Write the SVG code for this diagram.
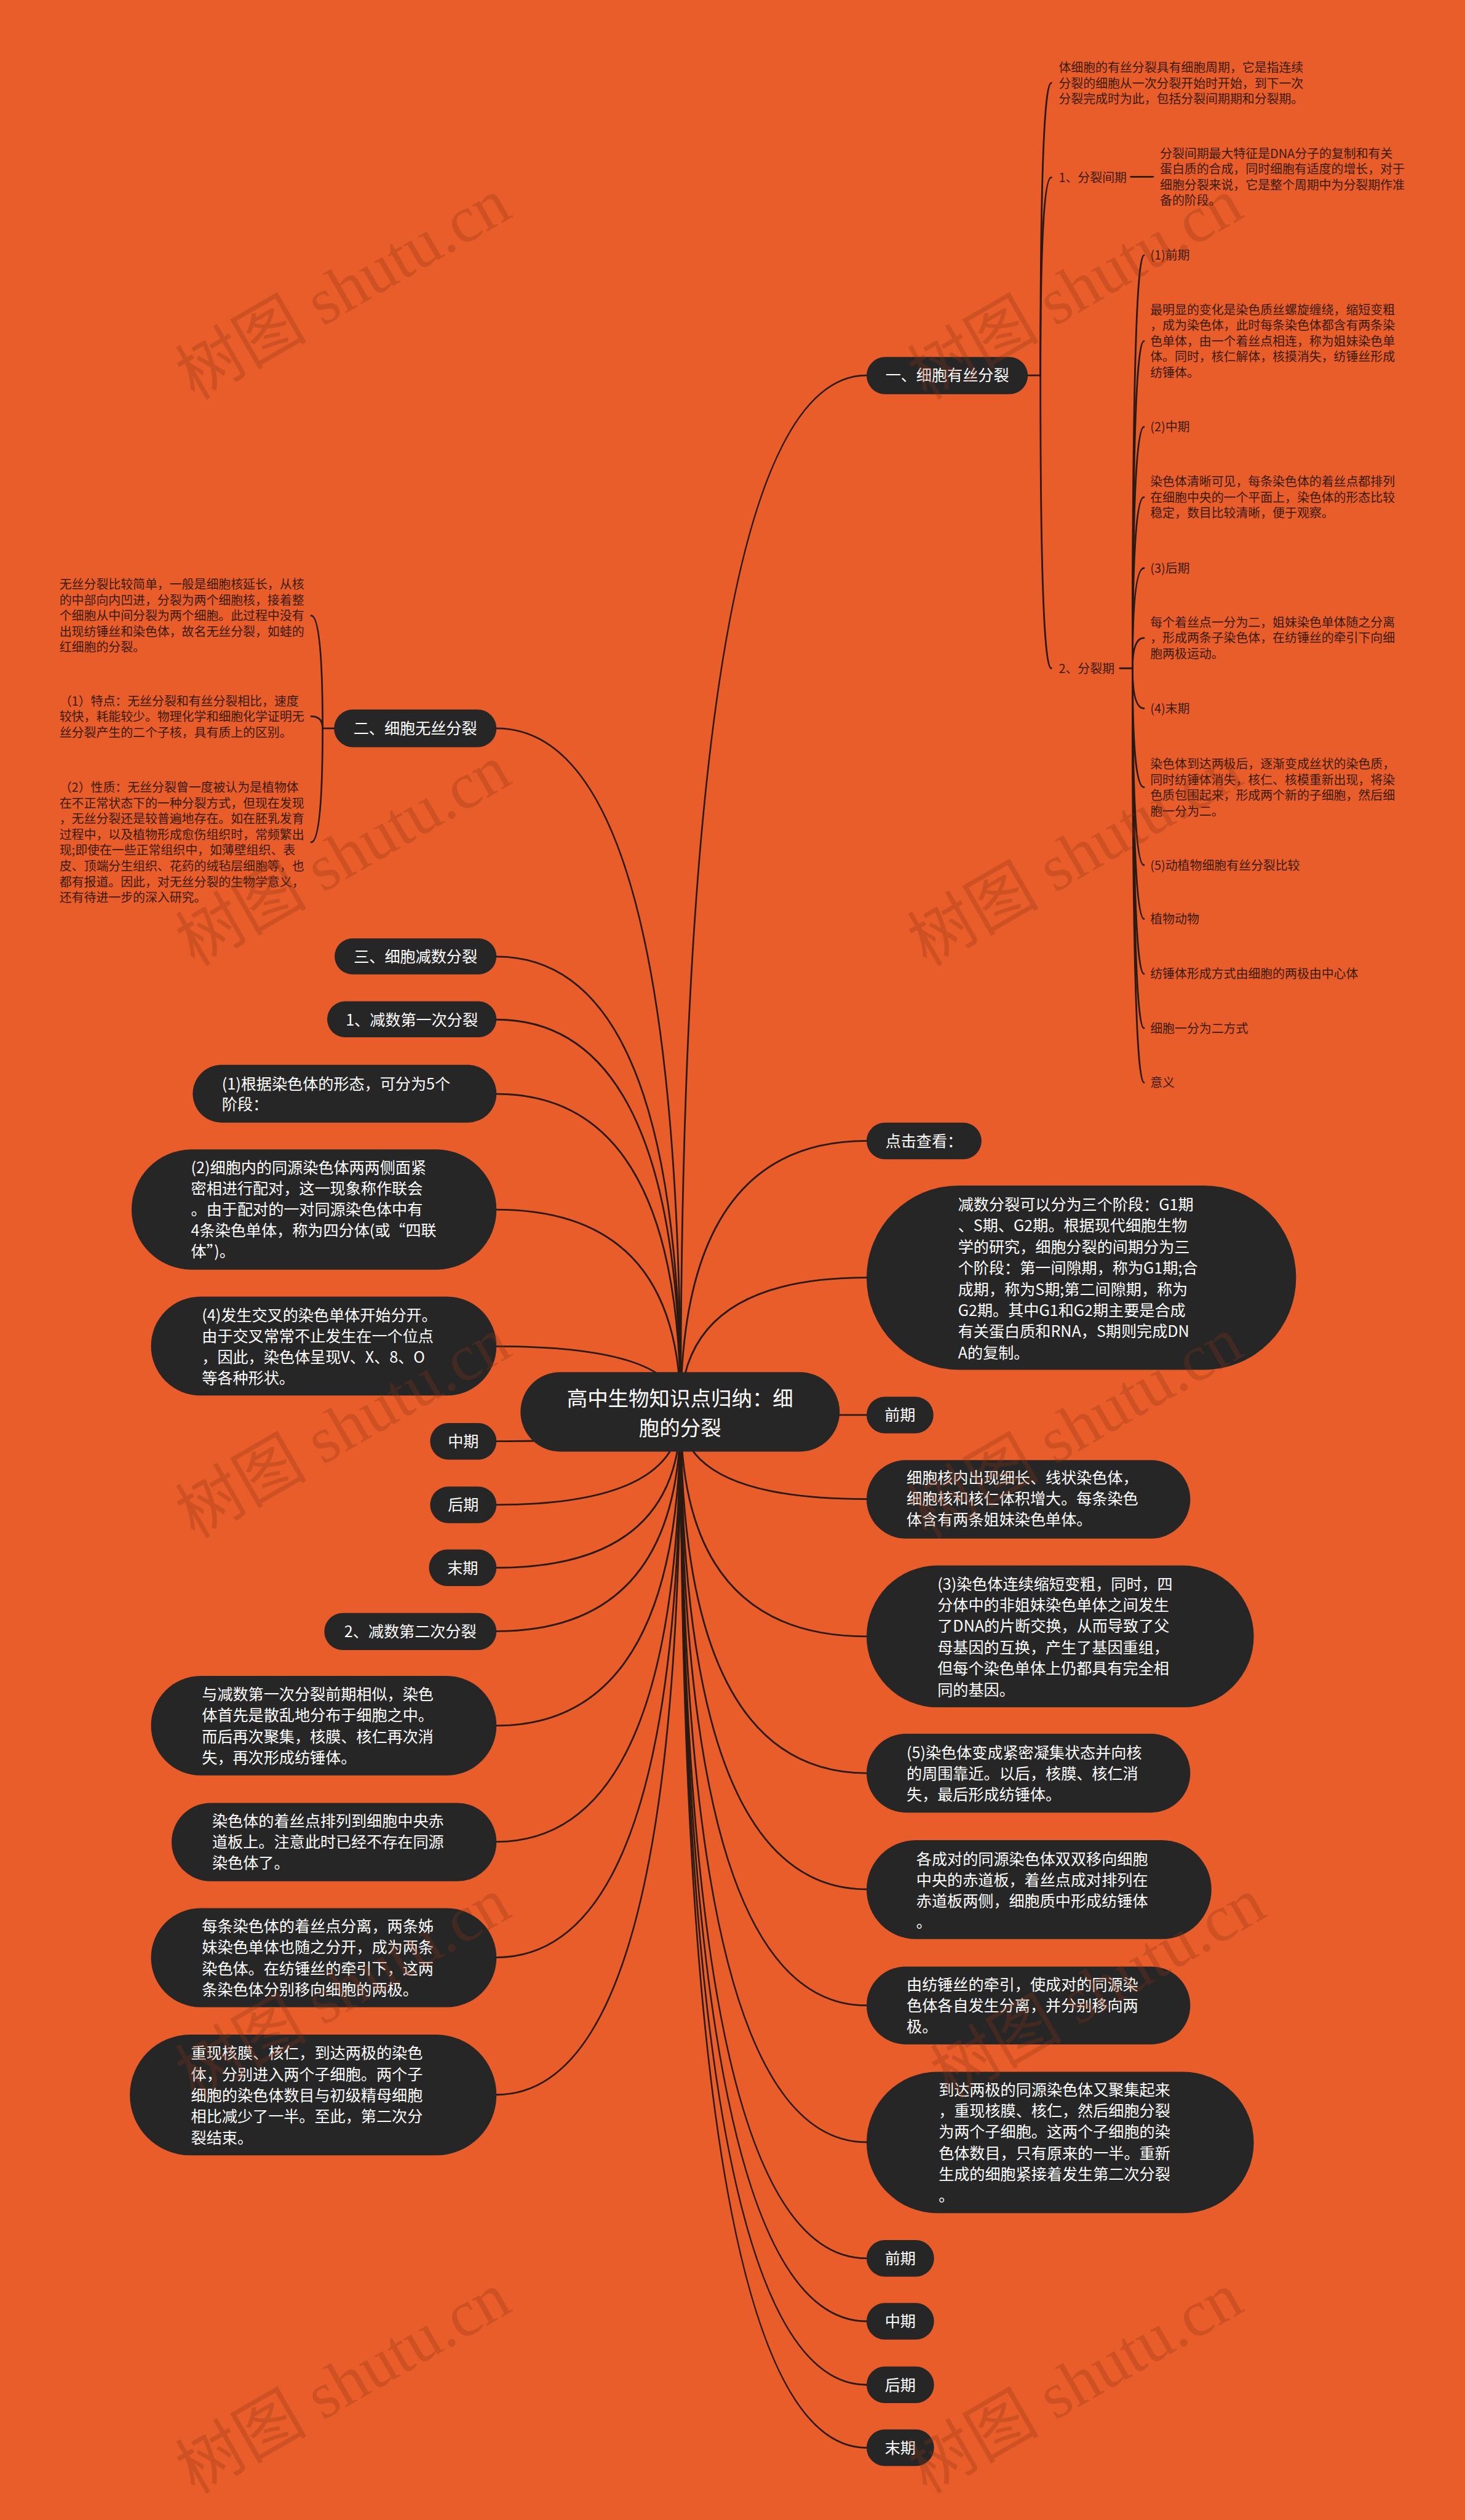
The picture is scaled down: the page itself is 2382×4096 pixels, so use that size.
<svg xmlns="http://www.w3.org/2000/svg" width="2382" height="4096" viewBox="0 0 2382 4096">
<style>
.bg{fill:#E95D2A}
.n{fill:#262626}
.t{font-family:"Noto Sans CJK SC","Noto Sans",sans-serif;fill:#ffffff;font-size:27px}
.c{text-anchor:middle}
.r{font-size:36px}
.s{font-family:"Noto Sans CJK SC","Noto Sans",sans-serif;fill:#3a1a0b;font-size:21.4px}
.ln{fill:none;stroke:#2b1a12;stroke-width:3;stroke-linecap:round}
.wm{font-family:"Liberation Serif","Noto Sans CJK SC",serif;font-size:115px;fill:#8a3416;opacity:0.28}
</style>
<rect class="bg" x="0" y="0" width="2382" height="4096"/>
<g transform="scale(0.93)">
<g id="connectors">
<path class="ln" d="M1190 2468 Q1190 656 1515 656"/>
<path class="ln" d="M1190 2468 Q1190 1994 1515 1994"/>
<path class="ln" d="M1190 2468 Q1190 2233 1515 2233"/>
<path class="ln" d="M1190 2468 Q1190 2473 1515 2473"/>
<path class="ln" d="M1190 2468 Q1190 2620 1515 2620"/>
<path class="ln" d="M1190 2468 Q1190 2860 1515 2860"/>
<path class="ln" d="M1190 2468 Q1190 3099 1515 3099"/>
<path class="ln" d="M1190 2468 Q1190 3302 1515 3302"/>
<path class="ln" d="M1190 2468 Q1190 3505 1515 3505"/>
<path class="ln" d="M1190 2468 Q1190 3744 1515 3744"/>
<path class="ln" d="M1190 2468 Q1190 3947 1515 3947"/>
<path class="ln" d="M1190 2468 Q1190 4057 1515 4057"/>
<path class="ln" d="M1190 2468 Q1190 4168 1515 4168"/>
<path class="ln" d="M1190 2468 Q1190 4278 1515 4278"/>
<path class="ln" d="M1190 2468 Q1190 1273 868 1273"/>
<path class="ln" d="M1190 2468 Q1190 1672 868 1672"/>
<path class="ln" d="M1190 2468 Q1190 1782 868 1782"/>
<path class="ln" d="M1190 2468 Q1190 1912 868 1912"/>
<path class="ln" d="M1190 2468 Q1190 2114 868 2114"/>
<path class="ln" d="M1190 2468 Q1190 2353 868 2353"/>
<path class="ln" d="M1190 2468 Q1190 2519 868 2519"/>
<path class="ln" d="M1190 2468 Q1190 2630 868 2630"/>
<path class="ln" d="M1190 2468 Q1190 2740 868 2740"/>
<path class="ln" d="M1190 2468 Q1190 2851 868 2851"/>
<path class="ln" d="M1190 2468 Q1190 3016 868 3016"/>
<path class="ln" d="M1190 2468 Q1190 3219 868 3219"/>
<path class="ln" d="M1190 2468 Q1190 3421 868 3421"/>
<path class="ln" d="M1190 2468 Q1190 3661 868 3661"/>
<path class="ln" d="M1797 656 H1819"/>
<path class="ln" d="M1819 656 Q1819 145 1838 145"/>
<path class="ln" d="M1819 656 Q1819 310 1838 310"/>
<path class="ln" d="M1819 656 Q1819 1168 1838 1168"/>
<path class="ln" d="M1977 309 H2016"/>
<path class="ln" d="M1958 1168 H1980"/>
<path class="ln" d="M1980 1168 Q1980 446 2000 446"/>
<path class="ln" d="M1980 1168 Q1980 596 2000 596"/>
<path class="ln" d="M1980 1168 Q1980 746 2000 746"/>
<path class="ln" d="M1980 1168 Q1980 869 2000 869"/>
<path class="ln" d="M1980 1168 Q1980 993 2000 993"/>
<path class="ln" d="M1980 1168 Q1980 1115 2000 1115"/>
<path class="ln" d="M1980 1168 Q1980 1238 2000 1238"/>
<path class="ln" d="M1980 1168 Q1980 1376 2000 1376"/>
<path class="ln" d="M1980 1168 Q1980 1512 2000 1512"/>
<path class="ln" d="M1980 1168 Q1980 1606 2000 1606"/>
<path class="ln" d="M1980 1168 Q1980 1702 2000 1702"/>
<path class="ln" d="M1980 1168 Q1980 1797 2000 1797"/>
<path class="ln" d="M1980 1168 Q1980 1892 2000 1892"/>
<path class="ln" d="M584 1273 H564"/>
<path class="ln" d="M564 1273 Q564 1076 544 1076"/>
<path class="ln" d="M564 1273 Q564 1252 544 1252"/>
<path class="ln" d="M564 1273 Q564 1472 544 1472"/>
</g>

<g id="root"><rect class="n" x="910" y="2398" width="558" height="139" rx="69.5"/><text class="t c r" x="1189" y="2457">高中生物知识点归纳：细</text><text class="t c r" x="1189" y="2509">胞的分裂</text></g>

<g id="n-wusi"><rect class="n" x="584" y="1240" width="284" height="66" rx="33"/><text class="t c" x="726" y="1283">二、细胞无丝分裂</text></g>
<g id="n-wusi-p1"><text class="s" x="104" y="1029">无丝分裂比较简单，一般是细胞核延长，从核</text><text class="s" x="104" y="1056.5">的中部向内凹进，分裂为两个细胞核，接着整</text><text class="s" x="104" y="1084">个细胞从中间分裂为两个细胞。此过程中没有</text><text class="s" x="104" y="1111.5">出现纺锤丝和染色体，故名无丝分裂，如蛙的</text><text class="s" x="104" y="1139">红细胞的分裂。</text></g>
<g id="n-wusi-p2"><text class="s" x="104" y="1233">（1）特点：无丝分裂和有丝分裂相比，速度</text><text class="s" x="104" y="1260.5">较快，耗能较少。物理化学和细胞化学证明无</text><text class="s" x="104" y="1288">丝分裂产生的二个子核，具有质上的区别。</text></g>
<g id="n-wusi-p3"><text class="s" x="104" y="1384">（2）性质：无丝分裂曾一度被认为是植物体</text><text class="s" x="104" y="1411.5">在不正常状态下的一种分裂方式，但现在发现</text><text class="s" x="104" y="1439">，无丝分裂还是较普遍地存在。如在胚乳发育</text><text class="s" x="104" y="1466.5">过程中，以及植物形成愈伤组织时，常频繁出</text><text class="s" x="104" y="1494">现;即使在一些正常组织中，如薄壁组织、表</text><text class="s" x="104" y="1521.5">皮、顶端分生组织、花药的绒毡层细胞等，也</text><text class="s" x="104" y="1549">都有报道。因此，对无丝分裂的生物学意义，</text><text class="s" x="104" y="1576.5">还有待进一步的深入研究。</text></g>

<g id="n-jianshu"><rect class="n" x="585" y="1640" width="283" height="63" rx="31.5"/><text class="t c" x="726.5" y="1682">三、细胞减数分裂</text></g>
<g id="n-di1"><rect class="n" x="572" y="1750" width="296" height="63" rx="31.5"/><text class="t c" x="720" y="1792">1、减数第一次分裂</text></g>
<g id="n-l1"><rect class="n" x="337" y="1861" width="531" height="101" rx="50.5"/><text class="t" x="388" y="1904">(1)根据染色体的形态，可分为5个</text><text class="t" x="388" y="1940">阶段：</text></g>
<g id="n-l2"><rect class="n" x="230" y="2009" width="638" height="210" rx="105"/><text class="t" x="334" y="2051">(2)细胞内的同源染色体两两侧面紧</text><text class="t" x="334" y="2087.5">密相进行配对，这一现象称作联会</text><text class="t" x="334" y="2124">。由于配对的一对同源染色体中有</text><text class="t" x="334" y="2160.5">4条染色单体，称为四分体(或“四联</text><text class="t" x="334" y="2197">体”)。</text></g>
<g id="n-l4"><rect class="n" x="264" y="2266" width="604" height="173" rx="86.5"/><text class="t" x="353" y="2309">(4)发生交叉的染色单体开始分开。</text><text class="t" x="353" y="2345.5">由于交叉常常不止发生在一个位点</text><text class="t" x="353" y="2382">，因此，染色体呈现V、X、8、O</text><text class="t" x="353" y="2418.5">等各种形状。</text></g>
<g id="n-lzhong"><rect class="n" x="752" y="2487" width="116" height="64" rx="32"/><text class="t c" x="810" y="2529">中期</text></g>
<g id="n-lhou"><rect class="n" x="752" y="2598" width="116" height="64" rx="32"/><text class="t c" x="810" y="2640">后期</text></g>
<g id="n-lmo"><rect class="n" x="750" y="2708" width="118" height="64" rx="32"/><text class="t c" x="809" y="2750">末期</text></g>
<g id="n-di2"><rect class="n" x="567" y="2819" width="301" height="65" rx="32.5"/><text class="t c" x="717.5" y="2861">2、减数第二次分裂</text></g>
<g id="n-l5"><rect class="n" x="264" y="2929" width="604" height="174" rx="87"/><text class="t" x="353" y="2971">与减数第一次分裂前期相似，染色</text><text class="t" x="353" y="3008">体首先是散乱地分布于细胞之中。</text><text class="t" x="353" y="3045">而后再次聚集，核膜、核仁再次消</text><text class="t" x="353" y="3082">失，再次形成纺锤体。</text></g>
<g id="n-l6"><rect class="n" x="300" y="3151" width="568" height="137" rx="68.5"/><text class="t" x="371" y="3193">染色体的着丝点排列到细胞中央赤</text><text class="t" x="371" y="3229.5">道板上。注意此时已经不存在同源</text><text class="t" x="371" y="3266">染色体了。</text></g>
<g id="n-l7"><rect class="n" x="264" y="3335" width="604" height="173" rx="86.5"/><text class="t" x="353" y="3376">每条染色体的着丝点分离，两条姊</text><text class="t" x="353" y="3413">妹染色单体也随之分开，成为两条</text><text class="t" x="353" y="3450">染色体。在纺锤丝的牵引下，这两</text><text class="t" x="353" y="3487">条染色体分别移向细胞的两极。</text></g>
<g id="n-l8"><rect class="n" x="227" y="3556" width="641" height="211" rx="105.5"/><text class="t" x="334" y="3598">重现核膜、核仁，到达两极的染色</text><text class="t" x="334" y="3635">体，分别进入两个子细胞。两个子</text><text class="t" x="334" y="3672">细胞的染色体数目与初级精母细胞</text><text class="t" x="334" y="3709">相比减少了一半。至此，第二次分</text><text class="t" x="334" y="3746">裂结束。</text></g>

<g id="n-yousi"><rect class="n" x="1515" y="624" width="282" height="65" rx="32.5"/><text class="t c" x="1656" y="666">一、细胞有丝分裂</text></g>
<g id="n-ys-p"><text class="s" x="1851" y="126">体细胞的有丝分裂具有细胞周期，它是指连续</text><text class="s" x="1851" y="153.5">分裂的细胞从一次分裂开始时开始，到下一次</text><text class="s" x="1851" y="181">分裂完成时为此，包括分裂间期期和分裂期。</text></g>
<g id="n-jianqi"><text class="s" x="1851" y="318">1、分裂间期</text></g>
<g id="n-jianqi-p"><text class="s" x="2028" y="276">分裂间期最大特征是DNA分子的复制和有关</text><text class="s" x="2028" y="303.5">蛋白质的合成，同时细胞有适度的增长，对于</text><text class="s" x="2028" y="331">细胞分裂来说，它是整个周期中为分裂期作准</text><text class="s" x="2028" y="358.5">备的阶段。</text></g>
<g id="n-fenlie"><text class="s" x="1851" y="1176">2、分裂期</text></g>
<g id="n-f1"><text class="s" x="2011" y="454">(1)前期</text></g>
<g id="n-f1p"><text class="s" x="2011" y="549">最明显的变化是染色质丝螺旋缠绕，缩短变粗</text><text class="s" x="2011" y="576.5">，成为染色体，此时每条染色体都含有两条染</text><text class="s" x="2011" y="604">色单体，由一个着丝点相连，称为姐妹染色单</text><text class="s" x="2011" y="631.5">体。同时，核仁解体，核摸消失，纺锤丝形成</text><text class="s" x="2011" y="659">纺锤体。</text></g>
<g id="n-f2"><text class="s" x="2011" y="754">(2)中期</text></g>
<g id="n-f2p"><text class="s" x="2011" y="849.5">染色体清晰可见，每条染色体的着丝点都排列</text><text class="s" x="2011" y="877">在细胞中央的一个平面上，染色体的形态比较</text><text class="s" x="2011" y="904.5">稳定，数目比较清晰，便于观察。</text></g>
<g id="n-f3"><text class="s" x="2011" y="1001">(3)后期</text></g>
<g id="n-f3p"><text class="s" x="2011" y="1095.5">每个着丝点一分为二，姐妹染色单体随之分离</text><text class="s" x="2011" y="1123">，形成两条子染色体，在纺锤丝的牵引下向细</text><text class="s" x="2011" y="1150.5">胞两极运动。</text></g>
<g id="n-f4"><text class="s" x="2011" y="1246">(4)末期</text></g>
<g id="n-f4p"><text class="s" x="2011" y="1343">染色体到达两极后，逐渐变成丝状的染色质，</text><text class="s" x="2011" y="1370.5">同时纺锤体消失，核仁、核模重新出现，将染</text><text class="s" x="2011" y="1398">色质包围起来，形成两个新的子细胞，然后细</text><text class="s" x="2011" y="1425.5">胞一分为二。</text></g>
<g id="n-f5"><text class="s" x="2011" y="1520">(5)动植物细胞有丝分裂比较</text></g>
<g id="n-f6"><text class="s" x="2011" y="1614">植物动物</text></g>
<g id="n-f7"><text class="s" x="2011" y="1710">纺锤体形成方式由细胞的两极由中心体</text></g>
<g id="n-f8"><text class="s" x="2011" y="1805">细胞一分为二方式</text></g>
<g id="n-f9"><text class="s" x="2011" y="1900">意义</text></g>

<g id="n-dianji"><rect class="n" x="1515" y="1962" width="201" height="64" rx="32"/><text class="t c" x="1615.5" y="2004">点击查看：</text></g>
<g id="n-r1"><rect class="n" x="1515" y="2072" width="751" height="322" rx="161"/><text class="t" x="1675" y="2115">减数分裂可以分为三个阶段：G1期</text><text class="t" x="1675" y="2152">、S期、G2期。根据现代细胞生物</text><text class="t" x="1675" y="2189">学的研究，细胞分裂的间期分为三</text><text class="t" x="1675" y="2226">个阶段：第一间隙期，称为G1期;合</text><text class="t" x="1675" y="2263">成期，称为S期;第二间隙期，称为</text><text class="t" x="1675" y="2300">G2期。其中G1和G2期主要是合成</text><text class="t" x="1675" y="2337">有关蛋白质和RNA，S期则完成DN</text><text class="t" x="1675" y="2374">A的复制。</text></g>
<g id="n-rqian"><rect class="n" x="1515" y="2441" width="117" height="64" rx="32"/><text class="t c" x="1573.5" y="2483">前期</text></g>
<g id="n-r2"><rect class="n" x="1515" y="2552" width="566" height="137" rx="68.5"/><text class="t" x="1585" y="2593">细胞核内出现细长、线状染色体，</text><text class="t" x="1585" y="2629.5">细胞核和核仁体积增大。每条染色</text><text class="t" x="1585" y="2666">体含有两条姐妹染色单体。</text></g>
<g id="n-r3"><rect class="n" x="1515" y="2736" width="677" height="248" rx="124"/><text class="t" x="1639" y="2778">(3)染色体连续缩短变粗，同时，四</text><text class="t" x="1639" y="2815">分体中的非姐妹染色单体之间发生</text><text class="t" x="1639" y="2852">了DNA的片断交换，从而导致了父</text><text class="t" x="1639" y="2889">母基因的互换，产生了基因重组，</text><text class="t" x="1639" y="2926">但每个染色单体上仍都具有完全相</text><text class="t" x="1639" y="2963">同的基因。</text></g>
<g id="n-r4"><rect class="n" x="1515" y="3030" width="566" height="138" rx="69"/><text class="t" x="1585" y="3073">(5)染色体变成紧密凝集状态并向核</text><text class="t" x="1585" y="3109.5">的周围靠近。以后，核膜、核仁消</text><text class="t" x="1585" y="3146">失，最后形成纺锤体。</text></g>
<g id="n-r5"><rect class="n" x="1515" y="3216" width="603" height="173" rx="86.5"/><text class="t" x="1602" y="3259">各成对的同源染色体双双移向细胞</text><text class="t" x="1602" y="3295.5">中央的赤道板，着丝点成对排列在</text><text class="t" x="1602" y="3332">赤道板两侧，细胞质中形成纺锤体</text><text class="t" x="1602" y="3368.5">。</text></g>
<g id="n-r6"><rect class="n" x="1515" y="3437" width="566" height="136" rx="68"/><text class="t" x="1585" y="3478">由纺锤丝的牵引，使成对的同源染</text><text class="t" x="1585" y="3515">色体各自发生分离，并分别移向两</text><text class="t" x="1585" y="3552">极。</text></g>
<g id="n-r7"><rect class="n" x="1515" y="3621" width="677" height="247" rx="123.5"/><text class="t" x="1641" y="3662">到达两极的同源染色体又聚集起来</text><text class="t" x="1641" y="3699">，重现核膜、核仁，然后细胞分裂</text><text class="t" x="1641" y="3736">为两个子细胞。这两个子细胞的染</text><text class="t" x="1641" y="3773">色体数目，只有原来的一半。重新</text><text class="t" x="1641" y="3810">生成的细胞紧接着发生第二次分裂</text><text class="t" x="1641" y="3847">。</text></g>
<g id="n-rqian2"><rect class="n" x="1515" y="3915" width="118" height="64" rx="32"/><text class="t c" x="1574" y="3957">前期</text></g>
<g id="n-rzhong2"><rect class="n" x="1515" y="4025" width="118" height="64" rx="32"/><text class="t c" x="1574" y="4067">中期</text></g>
<g id="n-rhou2"><rect class="n" x="1515" y="4136" width="118" height="64" rx="32"/><text class="t c" x="1574" y="4178">后期</text></g>
<g id="n-rmo2"><rect class="n" x="1515" y="4246" width="118" height="64" rx="32"/><text class="t c" x="1574" y="4288">末期</text></g>

<g id="watermarks">
<text class="wm" transform="translate(340 700) rotate(-30)">树图 shutu.cn</text>
<text class="wm" transform="translate(1620 700) rotate(-30)">树图 shutu.cn</text>
<text class="wm" transform="translate(340 1690) rotate(-30)">树图 shutu.cn</text>
<text class="wm" transform="translate(1620 1690) rotate(-30)">树图 shutu.cn</text>
<text class="wm" transform="translate(340 2690) rotate(-30)">树图 shutu.cn</text>
<text class="wm" transform="translate(1620 2690) rotate(-30)">树图 shutu.cn</text>
<text class="wm" transform="translate(340 3670) rotate(-30)">树图 shutu.cn</text>
<text class="wm" transform="translate(1660 3670) rotate(-30)">树图 shutu.cn</text>
<text class="wm" transform="translate(340 4360) rotate(-30)">树图 shutu.cn</text>
<text class="wm" transform="translate(1620 4360) rotate(-30)">树图 shutu.cn</text>
</g>
</g>
</svg>
